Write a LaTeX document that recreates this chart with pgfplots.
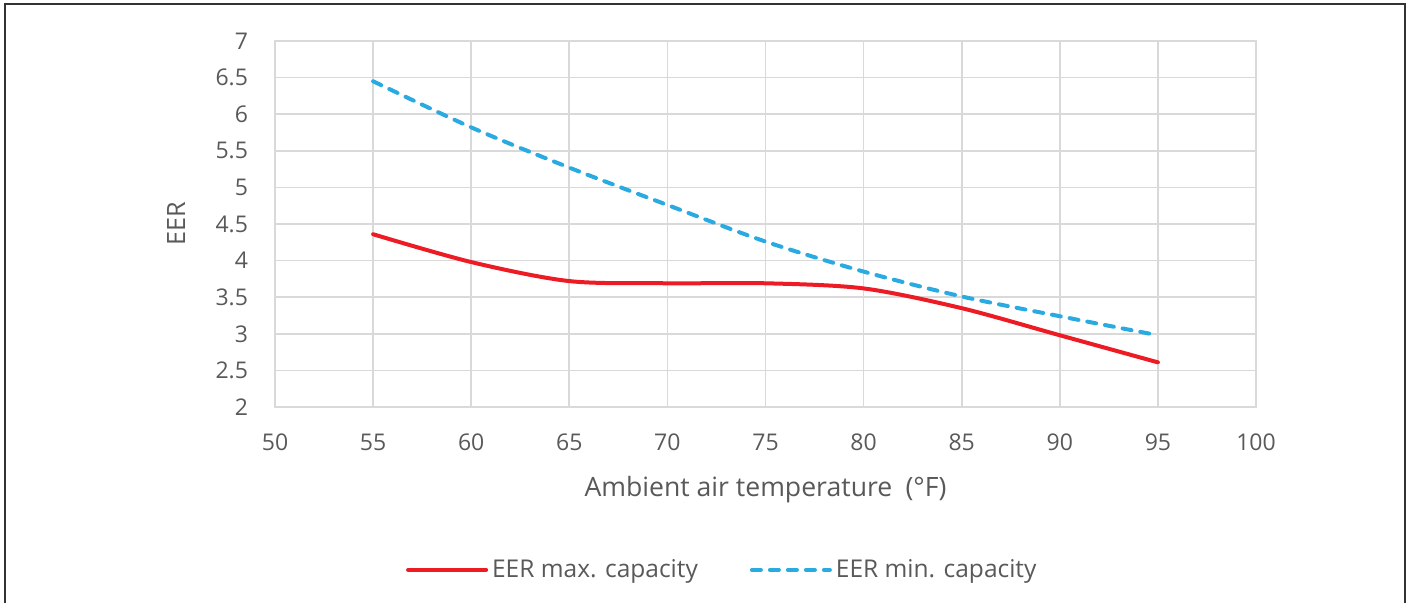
\documentclass[border=0pt]{standalone}
\usepackage{pgfplots}
\pgfplotsset{compat=1.18}
\usepackage{fontspec}
\setmainfont{Open Sans}
\definecolor{txt}{HTML}{595959}
\definecolor{gridc}{HTML}{D9D9D9}
\definecolor{axc}{HTML}{BFBFBF}
\definecolor{redl}{HTML}{ED1C24}
\definecolor{bluel}{HTML}{29ABE2}
\begin{document}
\begin{tikzpicture}
\useasboundingbox (-137.5pt,-98pt) rectangle (568.5pt,203.5pt);
\draw[line width=1pt, color=black!80] (-135pt,-99pt) -- (-135pt,201.5pt) -- (565pt,201.5pt) -- (565pt,-99pt);
\begin{axis}[
  at={(0,0)}, anchor=south west, scale only axis,
  width=490.5pt, height=183pt,
  xmin=50, xmax=100, ymin=2, ymax=7,
  xtick={50,55,...,100}, ytick={2,2.5,...,7},
  grid=major, grid style={color=gridc, line width=0.8pt},
  major tick length=0pt,
  axis line style={color=gridc, line width=0.8pt},
  tick label style={font=\fontsize{11.5}{13}\selectfont, color=txt},
  /pgf/number format/assume math mode=true,
  yticklabel style={xshift=-10pt},
  xticklabel style={yshift=-10pt},
  xlabel={Ambient air temperature\enspace(°F)}, ylabel={EER},
  every axis x label/.style={at={(axis description cs:0.5,-0.2268)}, anchor=center, font=\fontsize{13.3}{15}\selectfont, color=txt},
  every axis y label/.style={at={(axis description cs:-0.1009,0.5)}, rotate=90, anchor=center, font=\fontsize{12.6}{14}\selectfont, color=txt},
  legend columns=2,
  legend style={at={(axis description cs:0.457,-0.445)}, anchor=center, draw=none,
    font=\fontsize{12.25}{14}\selectfont, text=txt, /tikz/every even column/.append style={column sep=24pt}},
  legend image code/.code={\draw[#1] (0pt,0pt) -- (39pt,0pt);},
]
\addplot[redl, line width=2pt, smooth, tension=0.5, line cap=round] coordinates {
(55,4.36) (60,3.98) (65,3.72) (70,3.69) (75,3.69) (80,3.62) (85,3.35) (90,2.98) (95,2.61)};
\addlegendentry{EER max. capacity}
\addplot[bluel, line width=2pt, smooth, tension=0.5, line cap=round, dash pattern=on 4.5pt off 4.5pt] coordinates {
(55,6.45) (60,5.82) (65,5.27) (70,4.76) (75,4.26) (80,3.85) (85,3.51) (90,3.24) (95,2.98)};
\addlegendentry{EER min. capacity}
\end{axis}
\end{tikzpicture}
\end{document}
